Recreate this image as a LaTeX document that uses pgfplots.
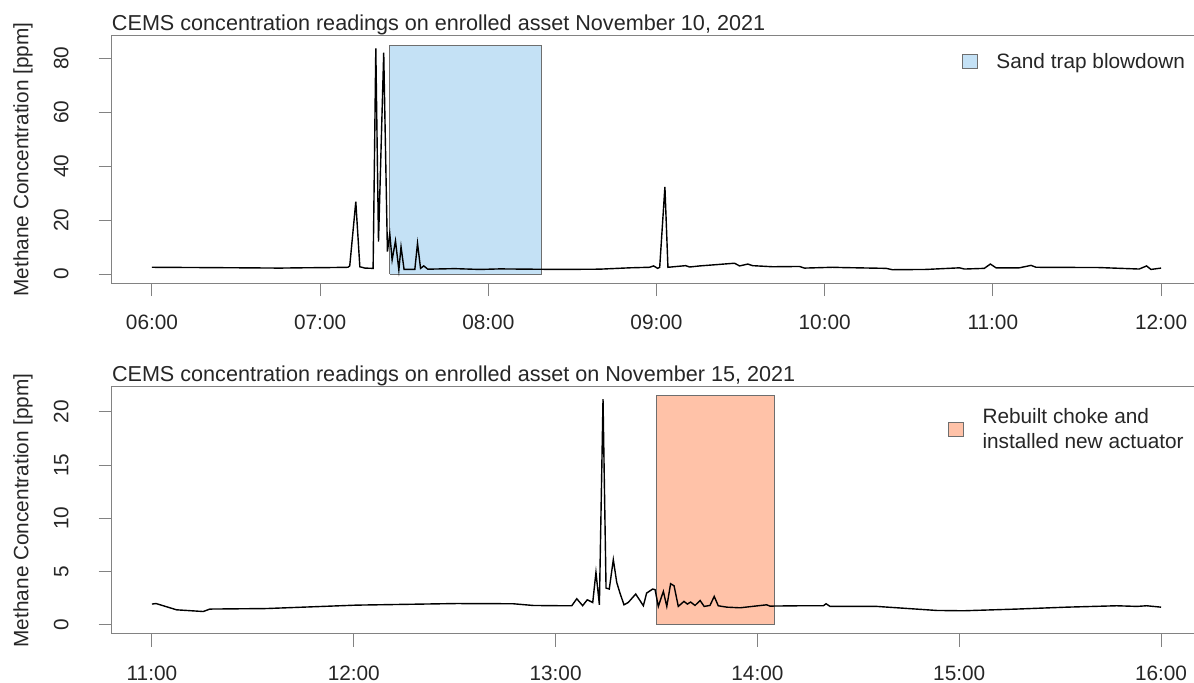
\documentclass[border=0pt]{standalone}
\usepackage{fontspec}
\setmainfont{Liberation Sans}
\usepackage{pgfplots}
\pgfplotsset{compat=1.18}
\definecolor{sandblue}{RGB}{196,225,245}
\definecolor{chokeor}{RGB}{255,194,168}
\definecolor{axgray}{RGB}{130,130,130}
\definecolor{edgegray}{RGB}{110,110,110}
\pgfplotsset{
  cemsax/.style={
    scale only axis, width=544.9pt, height=123.65pt, anchor=south west,
    axis line style={axgray, line width=0.5pt},
    tick style={axgray, line width=0.5pt},
    tick align=outside, major tick length=6.5pt,
    xtick pos=bottom, ytick pos=left,
    minor tick num=0,
    font=\fontsize{10.4}{12.5}\selectfont,
    /pgf/number format/assume math mode=true,
    yticklabel style={rotate=90, anchor=south, inner sep=0pt, text=black!85},
    yticklabel shift=14.8pt,
    xticklabel style={anchor=north, inner sep=0pt, text=black!85},
    xticklabel shift=9.4pt,
    ylabel={Methane Concentration [ppm]},
    ylabel style={at={(axis description cs:-0.0813,0.5)}, anchor=center, inner sep=0pt, text=black!85},
    every axis title shift=0pt,
    title style={at={(axis description cs:0,1)}, anchor=base west, inner sep=0pt, yshift=2.5pt, text=black!85, font=\fontsize{10.8}{13}\selectfont},
    legend style={draw=none, fill=none, inner sep=0pt, outer sep=0pt, font=\fontsize{10.4}{12.5}\selectfont, text=black!85},
    legend cell align=left,
    legend image code/.code={\draw[#1] (0pt,-3.5pt) rectangle (7.5pt,3.5pt); \path[draw=none, fill=none] (0pt,0pt) rectangle (15pt,0.1pt);},
  }
}
\begin{document}
\begin{tikzpicture}
\useasboundingbox (0,0) rectangle (597pt,341.5pt);
% ---------- top panel ----------
\begin{axis}[cemsax, at={(55.8pt,199.9pt)},
  xmin=5.76, xmax=12.24, ymin=-3.39, ymax=88.2,
  xtick={6,7,8,9,10,11,12},
  xticklabels={06:00,07:00,08:00,09:00,10:00,11:00,12:00},
  ytick={0,20,40,60,80},
  title={CEMS concentration readings on enrolled asset November 10, 2021},
  legend style={at={(axis description cs:0.7803,0.8945)}, anchor=west},
]
\addplot[fill=sandblue, draw=edgegray, line width=0.5pt] coordinates {(7.415,0) (8.317,0) (8.317,84.8) (7.415,84.8) (7.415,0)};
\addlegendentry{Sand trap blowdown}
\addplot[black, line width=0.7pt, forget plot] coordinates {
(6.000,2.5) (6.285,2.4) (6.541,2.3) (6.761,2.2) (6.879,2.3) (7.058,2.4) (7.165,2.5)
(7.176,3.0) (7.212,26.8) (7.236,2.7) (7.266,2.2) (7.315,2.1) (7.331,83.6) (7.347,12)
(7.378,82) (7.400,8.3) (7.414,15) (7.428,5.2) (7.448,12.3) (7.468,1.5) (7.481,10.1)
(7.499,1.7) (7.563,1.7) (7.579,11.4) (7.597,2.1) (7.616,3.0) (7.640,1.8) (7.800,2.0)
(7.949,1.7) (8.068,1.9) (8.246,1.8) (8.424,1.7) (8.662,1.8) (8.840,2.3) (8.959,2.5)
(8.983,3.0) (9.007,2.1) (9.019,2.5) (9.050,32.3) (9.068,2.5) (9.173,3.1) (9.197,2.6)
(9.256,3.0) (9.464,4.0) (9.494,3.0) (9.543,3.7) (9.571,3.1) (9.690,2.7) (9.850,2.8)
(9.880,2.2) (10.047,2.5) (10.106,2.4) (10.365,2.1) (10.403,1.6) (10.603,1.7) (10.801,2.3)
(10.831,1.85) (10.949,2.1) (10.985,3.7) (11.019,2.3) (11.157,2.3) (11.227,3.2) (11.257,2.5)
(11.633,2.4) (11.870,1.85) (11.914,3.0) (11.940,1.7) (12.000,2.2)
};
\end{axis}
% ---------- bottom panel ----------
\begin{axis}[cemsax, at={(55.8pt,24.5pt)},
  xmin=10.8, xmax=16.2, ymin=-0.86, ymax=22.36,
  xtick={11,12,13,14,15,16},
  xticklabels={11:00,12:00,13:00,14:00,15:00,16:00},
  ytick={0,5,10,15,20},
  title={CEMS concentration readings on enrolled asset on November 15, 2021},
  legend style={at={(axis description cs:0.7675,0.827)}, anchor=west},
]
\addplot[fill=chokeor, draw=edgegray, line width=0.5pt] coordinates {(13.50,0) (14.086,0) (14.086,21.5) (13.50,21.5) (13.50,0)};
\addlegendentry[align=left]{Rebuilt choke and\\installed new actuator}
\addplot[black, line width=0.7pt, forget plot] coordinates {
(11.000,1.95) (11.020,2.0) (11.122,1.41) (11.254,1.25) (11.287,1.48) (11.568,1.53) (12.014,1.85)
(12.510,2.0) (12.789,1.98) (12.888,1.82) (12.972,1.80) (13.080,1.79) (13.105,2.45) (13.134,1.80)
(13.157,2.35) (13.184,2.10) (13.200,4.93) (13.217,1.88) (13.235,21.2) (13.250,3.45) (13.266,3.36)
(13.286,6.12) (13.303,3.98) (13.319,2.98) (13.339,1.88) (13.360,2.10) (13.397,2.89) (13.435,1.79)
(13.451,2.98) (13.481,3.36) (13.493,3.30) (13.509,1.73) (13.534,3.14) (13.551,1.73) (13.570,3.86)
(13.587,3.67) (13.608,1.73) (13.636,2.20) (13.653,1.95) (13.669,2.14) (13.691,1.82) (13.716,2.29)
(13.736,1.73) (13.765,1.82) (13.786,2.67) (13.806,1.79) (13.848,1.66) (13.914,1.60) (14.046,1.88)
(14.062,1.76) (14.211,1.79) (14.327,1.79) (14.340,1.98) (14.360,1.73) (14.591,1.73) (14.888,1.35)
(15.020,1.32) (15.285,1.48) (15.533,1.66) (15.780,1.79) (15.880,1.73) (15.929,1.79) (16.000,1.66)
};
\end{axis}
\end{tikzpicture}
\end{document}
